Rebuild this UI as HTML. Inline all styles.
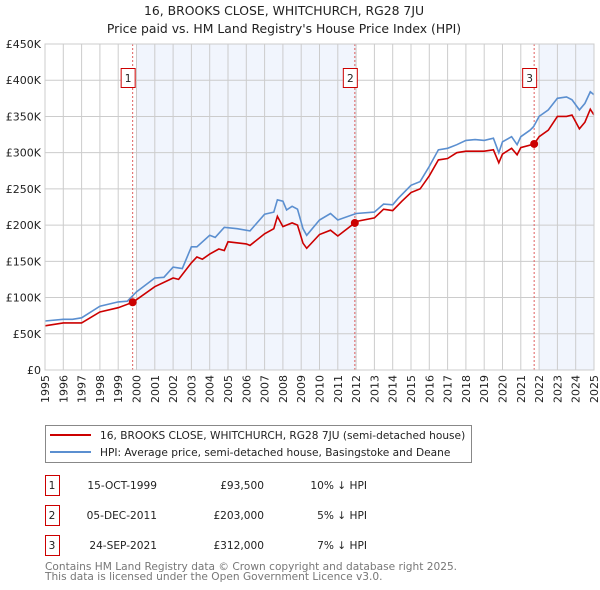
<!DOCTYPE html>
<html><head><meta charset="utf-8"><style>
body{margin:0;background:#fff;}
svg{display:block;font-family:"DejaVu Sans","Liberation Sans",sans-serif;}
</style></head><body>
<svg id="c" width="600" height="590" viewBox="0 0 600 590">
<text x="284" y="15" text-anchor="middle" font-size="12.4" fill="#222">16, BROOKS CLOSE, WHITCHURCH, RG28 7JU</text>
<text x="284" y="33" text-anchor="middle" font-size="12.4" fill="#222">Price paid vs. HM Land Registry's House Price Index (HPI)</text>
<g id="plot"></g>
<g>
<rect x="45.5" y="425.5" width="426" height="37" fill="#fff" stroke="#888"/>
<line x1="50" y1="435" x2="91" y2="435" stroke="#cc0000" stroke-width="2"/>
<text x="100" y="439" font-size="10.6" fill="#222">16, BROOKS CLOSE, WHITCHURCH, RG28 7JU (semi-detached house)</text>
<line x1="50" y1="452" x2="91" y2="452" stroke="#5b8fd0" stroke-width="2"/>
<text x="100" y="456" font-size="10.6" fill="#222">HPI: Average price, semi-detached house, Basingstoke and Deane</text>
</g>
<g id="tbl" font-size="10.6" fill="#222"></g>
<text x="45" y="570" font-size="10.6" fill="#777">Contains HM Land Registry data © Crown copyright and database right 2025.</text>
<text x="45" y="580" font-size="10.6" fill="#777">This data is licensed under the Open Government Licence v3.0.</text>
</svg>
<script>
const hpiT=[1995,1996,1996.5,1997,1998,1999,1999.5,2000,2001,2001.5,2002,2002.5,2003,2003.3,2004,2004.3,2004.8,2005.5,2006.2,2007,2007.5,2007.7,2008,2008.2,2008.5,2008.8,2009.1,2009.3,2010,2010.6,2011,2012,2013,2013.5,2014,2014.3,2015,2015.5,2016,2016.5,2017,2017.5,2018,2018.5,2019,2019.5,2019.8,2020,2020.5,2020.8,2021,2021.5,2021.7,2022,2022.5,2023,2023.5,2023.8,2024.2,2024.5,2024.8,2025];
const hpiV=[67.6,70,70,72,88,94,95,108,127,128,142,140,170,170,186,183,197,195,192,215,218,235,233,221,226,222,195,186,207,216,207,216,218,229,228,237,255,260,281,304,306,311,317,318,317,320,300,315,322,311,322,331,336,350,359,375,377,373,359,368,384,380];
const redT=[1995,1996,1997,1998,1999,1999.79,2000,2001,2002,2002.3,2003,2003.3,2003.6,2004,2004.5,2004.8,2005,2006,2006.2,2007,2007.5,2007.7,2008,2008.5,2008.8,2009.1,2009.3,2010,2010.6,2011,2011.93,2012,2013,2013.5,2014,2014.5,2015,2015.5,2016,2016.5,2017,2017.5,2018,2019,2019.5,2019.8,2020,2020.5,2020.8,2021,2021.73,2022,2022.5,2023,2023.5,2023.8,2024.2,2024.5,2024.8,2025];
const redV=[61,65,65,80,86,93.5,97,115,127,125,148,156,153,160,167,165,177,174,172,188,195,212,198,203,200,175,168,187,193,185,203,205,210,222,220,233,245,250,268,290,292,300,302,302,304,286,298,306,297,307,312,322,331,350,350,352,333,342,360,352];
const saleT=[1999.79,2011.93,2021.73];
const saleV=[93.5,203,312];
const saleLabels=["1","2","3"];
const saleDates=["15-OCT-1999","05-DEC-2011","24-SEP-2021"];
const salePrices=["£93,500","£203,000","£312,000"];
const saleDiffs=["10% ↓ HPI","5% ↓ HPI","7% ↓ HPI"];
const yTicks=[0,50,100,150,200,250,300,350,400,450];
const yLabels=["£0","£50K","£100K","£150K","£200K","£250K","£300K","£350K","£400K","£450K"];
const shadeRanges=[[2000,2012],[2022,2025]];
const X0=45,X1=594,Y0=370,Y1=44;
const x=t=>X0+(t-1995)*(X1-X0)/30;
const y=v=>Y0-v*(Y0-Y1)/450;
const NS="http://www.w3.org/2000/svg";
const g=document.getElementById('plot');
function mk(tag,at,par){const e=document.createElementNS(NS,tag);for(const k in at)e.setAttribute(k,at[k]);(par||g).appendChild(e);return e;}
for(const r of shadeRanges){const e=mk('rect',{x:x(r[0]),y:Y1,width:x(r[1])-x(r[0]),height:Y0-Y1,fill:'#eef3fc',opacity:0.8});

}
for(let yr=1995;yr<=2025;yr++){const e=mk('line',{x1:x(yr),x2:x(yr),y1:Y1,y2:Y0,stroke:'#cccccc','stroke-width':1});


const t=mk('text',{transform:`translate(${x(yr)+4},${Y0+5}) rotate(-90)`,'text-anchor':'end','font-size':11,fill:'#222'});
t.textContent=yr;

}
yTicks.forEach((v,i)=>{const e=mk('line',{x1:X0,x2:X1,y1:y(v),y2:y(v),stroke:'#cccccc','stroke-width':1});


const t=mk('text',{x:X0-4,y:y(v)+4,'text-anchor':'end','font-size':11,fill:'#222'});
t.textContent=yLabels[i];

});
saleT.forEach((t,i)=>{const e=mk('line',{x1:x(t),x2:x(t),y1:Y1,y2:Y0,stroke:'#e06060','stroke-width':1,'stroke-dasharray':'2,2'});


const b=mk('rect',{x:x(t)-11.5,y:68.5,width:14,height:19,fill:'#fff',stroke:'#cc0000'});


const tx=mk('text',{x:x(t)-4.5,y:82,'text-anchor':'middle','font-size':10.6,fill:'#222'});
tx.textContent=saleLabels[i];

});
const pts=(T,V)=>T.map((t,i)=>x(t).toFixed(1)+','+y(V[i]).toFixed(1)).join(' ');
const hl=mk('polyline',{points:pts(hpiT,hpiV),fill:'none',stroke:'#5b8fd0','stroke-width':1.6});


const rl=mk('polyline',{points:pts(redT,redV),fill:'none',stroke:'#cc0000','stroke-width':1.6});


saleT.forEach((t,i)=>{const c=mk('circle',{cx:x(t),cy:y(saleV[i]),r:4,fill:'#cc0000'});

});
const ax=mk('rect',{x:X0,y:Y1,width:X1-X0,height:Y0-Y1,fill:'none',stroke:'#cccccc'});


const tb=document.getElementById('tbl');
saleLabels.forEach((l,i)=>{const yy=475+i*30;
const b=mk('rect',{x:45.5,y:yy+0.5,width:14,height:20,fill:'#fff',stroke:'#cc0000'},tb);


const cols=[[52,'middle',l,'row-number'],[157,'end',saleDates[i],'row-date'],[264,'end',salePrices[i],'row-price'],[367,'end',saleDiffs[i],'row-hpi-diff']];
for(const c of cols){const t=mk('text',{x:c[0],y:yy+14,'text-anchor':c[1]},tb);
t.textContent=c[2];

}});
</script>
</body></html>
